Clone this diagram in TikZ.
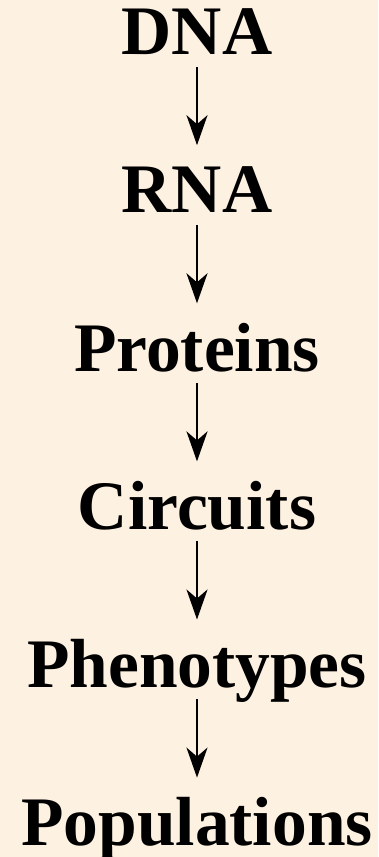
\documentclass[tikz,border=0pt]{standalone}
\usepackage{fontspec}
\setmainfont{Liberation Serif}
\usetikzlibrary{matrix,arrows.meta}

\definecolor{paper}{RGB}{253,241,225}

\begin{document}
\begin{tikzpicture}[
        % define styles
        stage/.style={
            font=\bfseries\fontsize{69.5}{70}\selectfont,
            inner sep=0pt,
            text height=46pt,
            text depth=0pt
        },
        flow/.style={
            matrix of nodes,
            nodes={stage},
            row sep=112.1pt,
            inner sep=0pt
        },
        >={Stealth[length=30pt,width=21pt,inset=9pt]}
    ]
    % background and page size
    \path[fill=paper, use as bounding box] (0,0) rectangle (378pt,-857pt);

    % one column holding the stages
    \matrix[flow, anchor=north] (mat) at (197pt,-8.6pt)
    {
    DNA \\
    RNA \\
    Proteins \\
    Circuits \\
    Phenotypes \\
    Populations \\
    };

    %arrows from each stage to the next one
    \foreach \ai [evaluate=\ai as \aii using int(\ai+1)] in {1,...,5}
        \draw[->, line width=2.4pt, shorten <=12pt, shorten >=21.5pt]
            (mat-\ai-1) -- (mat-\aii-1);

\end{tikzpicture}
\end{document}
